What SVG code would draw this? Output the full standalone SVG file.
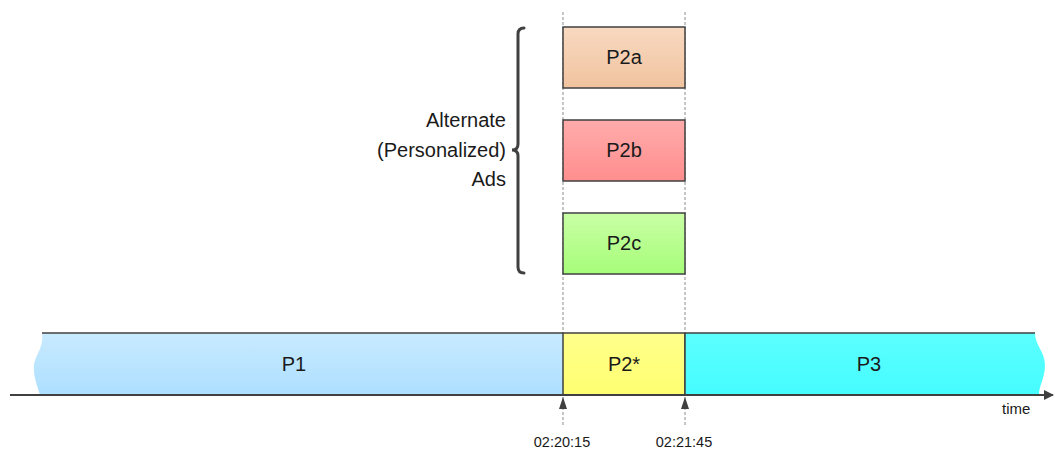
<svg xmlns="http://www.w3.org/2000/svg" width="1055" height="453" viewBox="0 0 1055 453">
<style>
text{font-family:"Liberation Sans",Arial,sans-serif;fill:#1a1a1a}
.big{font-size:20px}
.lbl{text-anchor:middle}
.small{font-size:14.5px}
.box{stroke:#404040;stroke-width:1.5}
.dash{stroke:#8c8c8c;stroke-width:1;stroke-dasharray:3,2;fill:none}
.line{stroke:#404040;fill:none}
</style>
<defs>
<linearGradient id="gA" x1="0" y1="0" x2="0" y2="1"><stop offset="0" stop-color="#f8d9c1"/><stop offset="1" stop-color="#f1c39f"/></linearGradient>
<linearGradient id="gB" x1="0" y1="0" x2="0" y2="1"><stop offset="0" stop-color="#ffabab"/><stop offset="1" stop-color="#ff8e8e"/></linearGradient>
<linearGradient id="gC" x1="0" y1="0" x2="0" y2="1"><stop offset="0" stop-color="#c9ffa5"/><stop offset="1" stop-color="#a6fd79"/></linearGradient>
<linearGradient id="g1" x1="0" y1="0" x2="0" y2="1"><stop offset="0" stop-color="#c8eaff"/><stop offset="1" stop-color="#addfff"/></linearGradient>
<linearGradient id="g2" x1="0" y1="0" x2="0" y2="1"><stop offset="0" stop-color="#ffff8c"/><stop offset="1" stop-color="#ffff70"/></linearGradient>
<linearGradient id="g3" x1="0" y1="0" x2="0" y2="1"><stop offset="0" stop-color="#5cffff"/><stop offset="1" stop-color="#45fcff"/></linearGradient>
<marker id="ah" viewBox="0 0 10 10" refX="9" refY="5" markerWidth="5" markerHeight="5" orient="auto" markerUnits="strokeWidth"><path d="M0,0 L10,5 L0,10 z" fill="#404040"/></marker>
</defs>

<g id="connectors">
<line class="dash" x1="563" y1="12" x2="563" y2="427"/>
<line class="dash" x1="685" y1="12" x2="685" y2="427"/>
<path class="line" stroke-width="3" stroke-linecap="round" d="M524,28 Q518,28 518,34 L518,144 Q518,150 512,150 Q518,150 518,156 L518,267 Q518,273 524,273"/>
</g>

<g id="P1">
<path fill="url(#g1)" d="M42,333 L563,333 L563,395 L40,395 C37,385 33,375 34,365 C35,355 44,348 42,333 z"/>
<line class="line" stroke-width="1.5" x1="42" y1="333" x2="563" y2="333"/>
<text class="big lbl" x="294" y="371">P1</text>
</g>

<g id="P2star">
<rect class="box" x="563" y="333" width="122" height="62" fill="url(#g2)"/>
<text class="big lbl" x="624" y="371">P2*</text>
</g>

<g id="P3">
<path fill="url(#g3)" d="M685,333 L1035,333 C1035,345 1045,352 1045,365 C1045,378 1039,385 1039,395 L685,395 z"/>
<line class="line" stroke-width="1.5" x1="685" y1="333" x2="1035" y2="333"/>
<line class="line" stroke-width="1.5" x1="685" y1="333" x2="685" y2="395"/>
<text class="big lbl" x="869" y="371">P3</text>
</g>

<g id="axis">
<line class="line" stroke-width="2" x1="10" y1="395" x2="1053" y2="395" marker-end="url(#ah)"/>
<text x="1002" y="414" style="font-size:15px">time</text>
</g>

<g id="P2a">
<rect class="box" x="563" y="27" width="122" height="61" fill="url(#gA)"/>
<text class="big lbl" x="624" y="64">P2a</text>
</g>
<g id="P2b">
<rect class="box" x="563" y="120" width="122" height="61" fill="url(#gB)"/>
<text class="big lbl" x="624" y="157">P2b</text>
</g>
<g id="P2c">
<rect class="box" x="563" y="213" width="122" height="61" fill="url(#gC)"/>
<text class="big lbl" x="624" y="250">P2c</text>
</g>

<g id="brace-label">
<text class="big" text-anchor="end" x="506" y="127">Alternate</text>
<text class="big" text-anchor="end" x="506" y="157">(Personalized)</text>
<text class="big" text-anchor="end" x="506" y="186">Ads</text>
</g>

<g id="t1">
<path d="M563,397 L567,409 L559,409 z" fill="#404040"/>
<text class="small lbl" x="562" y="447">02:20:15</text>
</g>
<g id="t2">
<path d="M685,397 L689,409 L681,409 z" fill="#404040"/>
<text class="small lbl" x="684" y="447">02:21:45</text>
</g>
</svg>
